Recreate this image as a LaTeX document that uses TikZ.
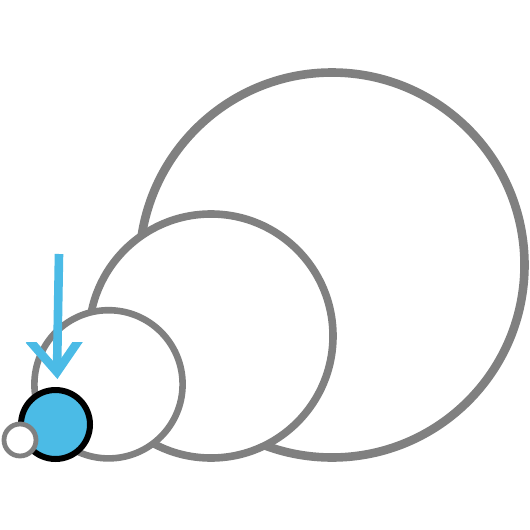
\documentclass[tikz,border=0pt]{standalone}
\definecolor{ringgrey}{HTML}{808080}
\definecolor{skyblue}{HTML}{4BBBE6}
\tikzset{
  ring/.style={circle, draw=ringgrey, fill=white, inner sep=0pt},
  bluedot/.style={circle, draw=black, fill=skyblue, inner sep=0pt, line width=6pt},
  pointer/.style={draw=skyblue, line width=8.6pt, miter limit=10}
}
\begin{document}
\begin{tikzpicture}[x=1pt,y=-1pt]
\useasboundingbox (0,0) rectangle (530,530);
\fill[white] (0,0) rectangle (530,530);
\node[ring, line width=8.6pt, minimum size=385pt] (c1) at (332,265) {};
\node[ring, line width=7.6pt, minimum size=244pt] (c2) at (211,336) {};
\node[ring, line width=6.6pt, minimum size=148.2pt] (c3) at (108.5,384.3) {};
\node[bluedot, minimum size=69pt] (c4) at (55.5,424.5) {};
\node[ring, line width=4.8pt, minimum size=32pt] (c5) at (20,440) {};
\coordinate (start) at (59,254);
\coordinate (tip) at (57,372);
\coordinate (armL) at (29,340);
\coordinate (armR) at (81,337);
\draw[pointer] (start) -- (tip);
\begin{scope}
\clip (0,342) rectangle (120,400);
\draw[pointer, line join=miter] (armL) -- (tip) -- (armR);
\end{scope}
\end{tikzpicture}
\end{document}
